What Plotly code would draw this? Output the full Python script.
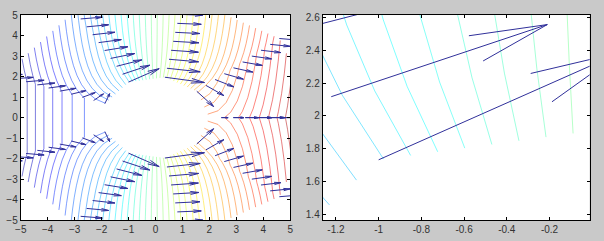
import numpy as np
import plotly.graph_objects as go

# ---- data -----------------------------------------------------------------
# polar sample grid (radius rings and ray angles) on which the field is drawn
RADII = [2.0, 2.444, 2.889, 3.333, 3.778, 4.222, 4.667, 5.111, 5.556, 6.0]
ANGLES_DEG = [0, 40, 80, 120, 160, 200, 240, 280, 320, 360]
FREE_STREAM = 1.0      # uniform flow speed
CYLINDER_RADIUS = 2.0  # obstacle radius
N_LEVELS = 50          # number of contour levels

LEFT_XTICKS = [-5, -4, -3, -2, -1, 0, 1, 2, 3, 4, 5]
LEFT_YTICKS = [-5, -4, -3, -2, -1, 0, 1, 2, 3, 4, 5]
RIGHT_XTICKS = [-1.2, -1.0, -0.8, -0.6, -0.4, -0.2]
RIGHT_YTICKS = [1.4, 1.6, 1.8, 2.0, 2.2, 2.4, 2.6]
LEFT_RANGE_X = [-5, 5]
LEFT_RANGE_Y = [-5, 5]
RIGHT_RANGE_X = [-1.262, -0.012]
RIGHT_RANGE_Y = [1.364, 2.614]

# ---- field ----------------------------------------------------------------
R, T = np.meshgrid(np.array(RADII), np.radians(ANGLES_DEG), indexing="ij")
X = R * np.cos(T)
Y = R * np.sin(T)
a2 = CYLINDER_RADIUS ** 2
PHI = FREE_STREAM * (R + a2 / R) * np.cos(T)
ur = FREE_STREAM * (1 - a2 / R ** 2) * np.cos(T)
ut = -FREE_STREAM * (1 + a2 / R ** 2) * np.sin(T)
U = ur * np.cos(T) - ut * np.sin(T)
V = ur * np.sin(T) + ut * np.cos(T)

zmin, zmax = PHI.min(), PHI.max()
levels = np.linspace(zmin, zmax, N_LEVELS + 2)[1:-1]


def jet(m):
    n = int(np.ceil(m / 4))
    u = np.concatenate([np.arange(1, n + 1) / n, np.ones(n - 1), np.arange(n, 0, -1) / n])
    g = int(np.ceil(n / 2)) - (1 if m % 4 == 1 else 0) + np.arange(1, len(u) + 1)
    r = g + n
    b = g - n
    J = np.zeros((m, 3))
    for idx, val in zip(r, u):
        if 1 <= idx <= m:
            J[idx - 1, 0] = val
    for idx, val in zip(g, u):
        if 1 <= idx <= m:
            J[idx - 1, 1] = val
    for idx, val in zip(b, u):
        if 1 <= idx <= m:
            J[idx - 1, 2] = val
    return J


CMAP = jet(64)


def level_color(c):
    lo, hi = levels.min(), levels.max()
    k = int(np.floor((c - lo) / (hi - lo) * 64))
    k = min(max(k, 0), 63)
    rr, gg, bb = (CMAP[k] * 255).round().astype(int)
    return f"rgba({rr},{gg},{bb},0.5)"


def contour_segments(c):
    xs, ys = [], []
    ni, nj = PHI.shape
    for i in range(ni - 1):
        for j in range(nj - 1):
            corners = [(i, j), (i + 1, j), (i + 1, j + 1), (i, j + 1)]
            pts = []
            for e in range(4):
                a = corners[e]
                b = corners[(e + 1) % 4]
                za, zb = PHI[a], PHI[b]
                if (za - c) * (zb - c) < 0:
                    t = (c - za) / (zb - za)
                    pts.append((X[a] + t * (X[b] - X[a]), Y[a] + t * (Y[b] - Y[a])))
            if len(pts) == 2:
                xs += [pts[0][0], pts[1][0], None]
                ys += [pts[0][1], pts[1][1], None]
            elif len(pts) == 4:
                xs += [pts[0][0], pts[1][0], None, pts[2][0], pts[3][0], None]
                ys += [pts[0][1], pts[1][1], None, pts[2][1], pts[3][1], None]
    return xs, ys


# quiver (MATLAB-style autoscale and arrow heads)
m_, n_ = X.shape
delx = (X.max() - X.min()) / n_
dely = (Y.max() - Y.min()) / m_
dl = delx ** 2 + dely ** 2
maxlen = np.sqrt((U ** 2 + V ** 2) / dl).max()
scale = 0.9 / maxlen
us, vs = U * scale, V * scale
alpha, beta = 0.33, 0.23
qx, qy = [], []
for x0, y0, du, dv in zip(X.ravel(), Y.ravel(), us.ravel(), vs.ravel()):
    qx += [x0, x0 + du, None]
    qy += [y0, y0 + dv, None]
    qx += [x0 + du - alpha * (du + beta * dv), x0 + du, x0 + du - alpha * (du - beta * dv), None]
    qy += [y0 + dv - alpha * (dv - beta * du), y0 + dv, y0 + dv - alpha * (dv + beta * du), None]

fig = go.Figure()
for ax in [("x", "y"), ("x2", "y2")]:
    for c in levels:
        sx, sy = contour_segments(c)
        if not sx:
            continue
        fig.add_trace(go.Scatter(x=sx, y=sy, mode="lines", xaxis=ax[0], yaxis=ax[1],
                                 line=dict(color=level_color(c), width=1),
                                 hoverinfo="skip", showlegend=False))
    fig.add_trace(go.Scatter(x=qx, y=qy, mode="lines", xaxis=ax[0], yaxis=ax[1],
                             line=dict(color="#30309a", width=1),
                             hoverinfo="skip", showlegend=False))

W, H = 604, 241
top = 1 - 10.5 / H
bot = 1 - 224.5 / H
axis_style = dict(showgrid=False, zeroline=False, showline=True, linecolor="#000000",
                  linewidth=1, mirror="ticks", ticks="inside", ticklen=3,
                  tickcolor="#000000", tickfont=dict(family="Liberation Sans", size=10, color="#333333"))

fig.update_layout(
    width=W, height=H, margin=dict(l=0, r=0, t=0, b=0),
    paper_bgcolor="#c9c9c9", plot_bgcolor="#ffffff", showlegend=False,
    xaxis=dict(domain=[15 / W, 288.5 / W], range=LEFT_RANGE_X, tickvals=LEFT_XTICKS,
               anchor="y", **axis_style),
    yaxis=dict(domain=[bot, top], range=LEFT_RANGE_Y, tickvals=LEFT_YTICKS,
               anchor="x", **axis_style),
    xaxis2=dict(domain=[321.5 / W, 592.5 / W], range=RIGHT_RANGE_X, tickvals=RIGHT_XTICKS,
                ticktext=[f"{v:g}" for v in RIGHT_XTICKS], anchor="y2", **axis_style),
    yaxis2=dict(domain=[bot, top], range=RIGHT_RANGE_Y, tickvals=RIGHT_YTICKS,
                ticktext=[f"{v:g}" for v in RIGHT_YTICKS], anchor="x2", **axis_style),
)

fig.write_html("out.html")
